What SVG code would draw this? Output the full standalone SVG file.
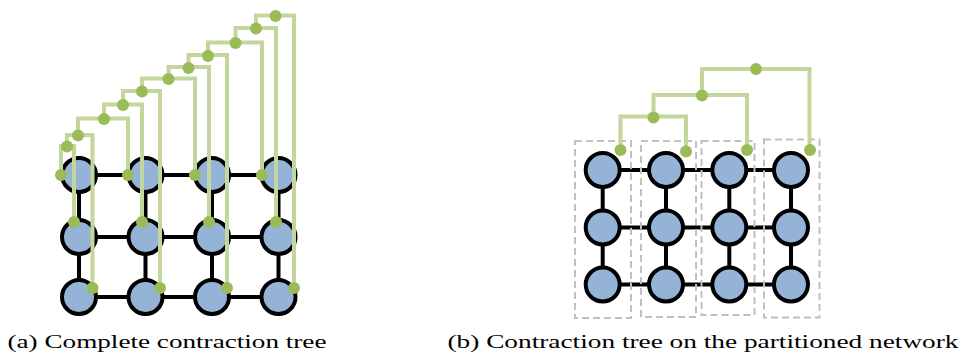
<svg xmlns="http://www.w3.org/2000/svg" width="966" height="356" viewBox="0 0 966 356">
<style>
.edge{stroke:#000;stroke-width:4;fill:none}
.node{fill:#95b3d7;stroke:#000;stroke-width:4}
.tree{stroke:#c3d69b;stroke-width:4;fill:none;stroke-linejoin:miter}
.dot{fill:#9bbb59}
.part{fill:none;stroke:#c0c0c0;stroke-width:2;stroke-dasharray:7 4}
.cap{font-family:"Liberation Serif","DejaVu Serif",serif;font-size:19.5px;fill:#000}
</style>
<rect width="966" height="356" fill="#fff"/>
<!-- Panel (a) -->
<g id="a-edges" class="edge">
<path d="M79 175H278.5M79 237H278.5M79 297H278.5M79 175V297M145.5 175V297M212 175V297M278.5 175V297"/>
</g>
<g id="a-nodes">
<g id="a-n00"><circle class="node" cx="79" cy="175" r="17"/></g>
<g id="a-n01"><circle class="node" cx="145.5" cy="175" r="17"/></g>
<g id="a-n02"><circle class="node" cx="212" cy="175" r="17"/></g>
<g id="a-n03"><circle class="node" cx="278.5" cy="175" r="17"/></g>
<g id="a-n10"><circle class="node" cx="79" cy="237" r="17"/></g>
<g id="a-n11"><circle class="node" cx="145.5" cy="237" r="17"/></g>
<g id="a-n12"><circle class="node" cx="212" cy="237" r="17"/></g>
<g id="a-n13"><circle class="node" cx="278.5" cy="237" r="17"/></g>
<g id="a-n20"><circle class="node" cx="79" cy="297" r="17"/></g>
<g id="a-n21"><circle class="node" cx="145.5" cy="297" r="17"/></g>
<g id="a-n22"><circle class="node" cx="212" cy="297" r="17"/></g>
<g id="a-n23"><circle class="node" cx="278.5" cy="297" r="17"/></g>
</g>
<g id="a-tree" class="tree">
<path d="M61 175V146H74V222"/>
<path d="M67 146V135H92.5V288"/>
<path d="M78 135V118.5H128V175"/>
<path d="M104 118.5V104.5H142V222"/>
<path d="M123 104.5V91H160V288"/>
<path d="M142 91V78.5H195V175"/>
<path d="M168.5 78.5V67H209V222"/>
<path d="M188.5 67V55H227V288"/>
<path d="M208 55V42.5H262V175"/>
<path d="M235.5 42.5V28H276V222"/>
<path d="M256 28V15.5H294V288"/>
</g>
<g id="a-dots" class="dot">
<circle cx="61" cy="175" r="6"/><circle cx="74" cy="222" r="6"/><circle cx="92.5" cy="288" r="6"/>
<circle cx="128" cy="175" r="6"/><circle cx="142" cy="222" r="6"/><circle cx="160" cy="288" r="6"/>
<circle cx="195" cy="175" r="6"/><circle cx="209" cy="222" r="6"/><circle cx="227" cy="288" r="6"/>
<circle cx="262" cy="175" r="6"/><circle cx="276" cy="222" r="6"/><circle cx="294" cy="288" r="6"/>
<circle cx="67" cy="146.5" r="6"/><circle cx="78" cy="135.5" r="6"/><circle cx="104" cy="119" r="6"/>
<circle cx="123" cy="105" r="6"/><circle cx="142" cy="91.5" r="6"/><circle cx="168.5" cy="79" r="6"/>
<circle cx="188.5" cy="68" r="6"/><circle cx="208" cy="56" r="6"/><circle cx="235.5" cy="43" r="6"/>
<circle cx="256" cy="28.5" r="6"/><circle cx="275.5" cy="16" r="6"/>
</g>
<!-- Panel (b) -->
<g id="b-edges" class="edge">
<path d="M602.7 170H791M602.7 227.5H791M602.7 284.5H791M602.7 170V284.5M666 170V284.5M729.3 170V284.5M791 170V284.5"/>
</g>
<g id="b-parts">
<rect class="part" x="575" y="141" width="56" height="177"/>
<rect class="part" x="641" y="141" width="55" height="176"/>
<rect class="part" x="701.5" y="141" width="53" height="174"/>
<rect class="part" x="764" y="139.5" width="55.5" height="178"/>
</g>
<g id="b-nodes">
<g id="b-n00"><circle class="node" cx="602.7" cy="170" r="17"/></g>
<g id="b-n01"><circle class="node" cx="666" cy="170" r="17"/></g>
<g id="b-n02"><circle class="node" cx="729.3" cy="170" r="17"/></g>
<g id="b-n03"><circle class="node" cx="791" cy="170" r="17"/></g>
<g id="b-n10"><circle class="node" cx="602.7" cy="227.5" r="17"/></g>
<g id="b-n11"><circle class="node" cx="666" cy="227.5" r="17"/></g>
<g id="b-n12"><circle class="node" cx="729.3" cy="227.5" r="17"/></g>
<g id="b-n13"><circle class="node" cx="791" cy="227.5" r="17"/></g>
<g id="b-n20"><circle class="node" cx="602.7" cy="284.5" r="17"/></g>
<g id="b-n21"><circle class="node" cx="666" cy="284.5" r="17"/></g>
<g id="b-n22"><circle class="node" cx="729.3" cy="284.5" r="17"/></g>
<g id="b-n23"><circle class="node" cx="791" cy="284.5" r="17"/></g>
</g>
<g id="b-tree" class="tree">
<path d="M620.5 150V116.5H686V151.5"/>
<path d="M653.5 117.5V95H747V150"/>
<path d="M702 95.5V69H809.5V150"/>
</g>
<g id="b-dots" class="dot">
<circle cx="620.5" cy="150" r="6"/><circle cx="686" cy="151.5" r="6"/><circle cx="747" cy="150" r="6"/><circle cx="810" cy="150" r="6"/>
<circle cx="653.5" cy="117.5" r="6"/><circle cx="702" cy="95.5" r="6"/><circle cx="756" cy="69" r="6"/>
</g>
<g id="captions">
<text class="cap" x="7.5" y="348" textLength="319" lengthAdjust="spacingAndGlyphs">(a) Complete contraction tree</text>
<text class="cap" x="447.5" y="348" textLength="511" lengthAdjust="spacingAndGlyphs">(b) Contraction tree on the partitioned network</text>
</g>
</svg>
